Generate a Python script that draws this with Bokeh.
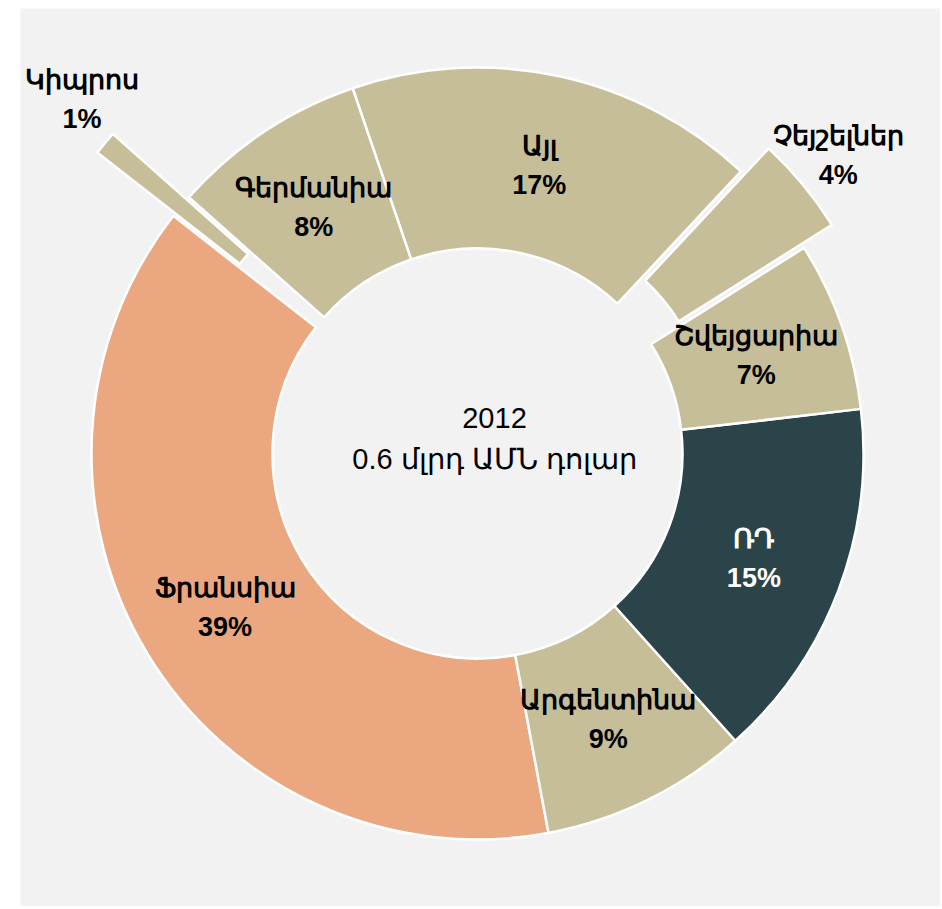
import math
from bokeh.plotting import figure
from bokeh.models import ColumnDataSource, Range1d
from bokeh.core.properties import value
from bokeh.embed import file_html
from bokeh.resources import INLINE

# ---- data ----
countries = ["Ֆրանսիա", "Արգենտինա", "ՌԴ", "Շվեյցարիա", "Չեյշելներ", "Այլ", "Գերմանիա", "Կիպրոս"]
shares = [38.5, 8.7, 15.2, 7.1, 4.1, 17.2, 8.2, 1.0]
colors = ["#EBA880", "#C5BE98", "#2A444A", "#C5BE98", "#C5BE98", "#C5BE98", "#C5BE98", "#C5BE98"]
label_colors = ["black", "black", "white", "black", "black", "black", "black", "black"]
explode = [0, 0, 0, 0, 36, 0, 0, 99]
center_title = ["2012", "0.6 մլրդ ԱՄՆ դոլար"]

# ---- layout ----
W, H = 940, 906
LEFT, TOP = 20, 8
FW, FH = W - LEFT, H - TOP
CX, CY = 457, 445  # centre position inside the plot frame (px)
FS = 27

# ---- geometry (pixel units) ----
R_IN, R_OUT = 205, 386
start0 = math.radians(142.0)
total = sum(shares)

xs, ys, sa, ea, lx, ly, names, pcts = [], [], [], [], [], [], [], []
a = start0
for c, s, e in zip(countries, shares, explode):
    span = s / total * 2 * math.pi
    mid = a + span / 2
    xs.append(e * math.cos(mid))
    ys.append(e * math.sin(mid))
    sa.append(a)
    ea.append(a + span)
    if e > 0:
        r = R_OUT + e + 46
    else:
        r = (R_IN + R_OUT) / 2
    x_l, y_l = r * math.cos(mid), r * math.sin(mid)
    # keep outside labels inside the frame, sliding along the label circle
    halfw = 0.33 * FS * len(c)
    xmin = -CX + 8 + halfw
    xmax = FW - CX - 8 - halfw
    if x_l < xmin or x_l > xmax:
        x_l = min(max(x_l, xmin), xmax)
        y_l = math.copysign(math.sqrt(max(r * r - x_l * x_l, 0)), y_l)
    lx.append(x_l)
    ly.append(y_l)
    names.append(c)
    pcts.append(f"{int(s + 0.5)}%")
    a += span

src = ColumnDataSource(dict(x=xs, y=ys, sa=sa, ea=ea, color=colors,
                            lx=lx, ly=ly, name=names, pct=pcts, tc=label_colors))

p = figure(width=W, height=H, output_backend="svg", toolbar_location=None,
           x_range=Range1d(-CX, FW - CX), y_range=Range1d(-(FH - CY), CY),
           min_border_left=LEFT, min_border_right=0, min_border_top=TOP, min_border_bottom=0)
p.axis.visible = False
p.grid.visible = False
p.outline_line_color = None
p.background_fill_color = "#F2F2F2"
p.border_fill_color = "white"

p.annular_wedge(x="x", y="y", inner_radius=R_IN, outer_radius=R_OUT,
                start_angle="sa", end_angle="ea", fill_color="color",
                line_color="white", line_width=2.5, source=src)

FONT = value("Liberation Sans")
p.text(x="lx", y="ly", text="name", text_color="tc", source=src,
       text_font=FONT, text_font_style="bold", text_font_size=f"{FS}px",
       text_align="center", text_baseline="middle", y_offset=-19)
p.text(x="lx", y="ly", text="pct", text_color="tc", source=src,
       text_font=FONT, text_font_style="bold", text_font_size=f"{FS}px",
       text_align="center", text_baseline="middle", y_offset=20)

p.text(x=[17, 17], y=[0, 0], text=center_title, text_color="black",
       text_font=FONT, text_font_size="29px", y_offset=[-36, 5],
       text_align="center", text_baseline="middle")

open("out.html", "w").write(file_html(p, INLINE))
